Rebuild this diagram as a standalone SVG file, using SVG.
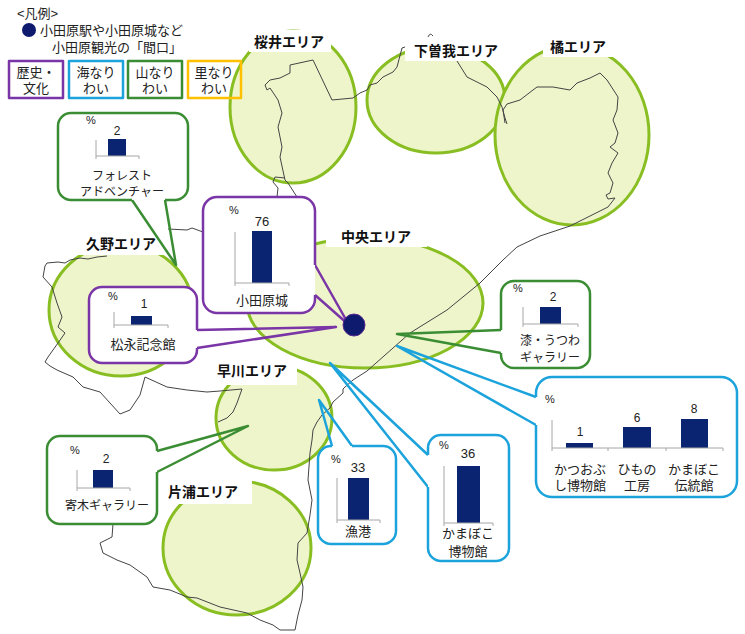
<svg xmlns="http://www.w3.org/2000/svg" width="745" height="634" viewBox="0 0 745 634">
<style>
.area{fill:#EFF5CB;stroke:#88BE22;stroke-width:3}
.map{fill:none;stroke:#444;stroke-width:1;stroke-linejoin:round}
.lbg{fill:#fff}
.lbl{font-family:'Liberation Sans','Noto Sans CJK JP',sans-serif;font-weight:bold;font-size:14px;fill:#111;text-anchor:middle}
.cbg{fill:#fff}
.co{fill:none;stroke-width:2.5;stroke-linejoin:round}
.g{stroke:#3B8D34}.p{stroke:#7A35A6}.b{stroke:#1CA3DC}.o{stroke:#FFC000}
.bar{fill:#0B2472}
.ax{fill:none;stroke:#A6A6A6;stroke-width:1}
.t{font-family:'Liberation Sans','Noto Sans CJK JP',sans-serif;font-size:13px;fill:#222;text-anchor:middle}
.s12{font-size:12px}
.pc{font-size:11px;text-anchor:start}
.lg{font-family:'Liberation Sans','Noto Sans CJK JP',sans-serif;font-size:13px;fill:#222}
</style>
<rect width="745" height="634" fill="#fff"/>
<g id="areas">
<ellipse id="area-sakurai" class="area" cx="293" cy="107" rx="63" ry="76"/>
<ellipse id="area-shimosoga" class="area" cx="436" cy="100" rx="69" ry="53"/>
<ellipse id="area-tachibana" class="area" cx="572" cy="135" rx="77" ry="90"/>
<ellipse id="area-chuo" class="area" cx="365" cy="303" rx="118" ry="65"/>
<ellipse id="area-kuno" class="area" cx="121" cy="310" rx="72" ry="66"/>
<ellipse id="area-hayakawa" class="area" cx="274" cy="418" rx="58" ry="52"/>
<ellipse id="area-kataura" class="area" cx="237" cy="548" rx="74" ry="67"/>
</g>
<g id="map">
<path class="map" d="M505,123 L503,110 L507,104 L520,100 L533,90 L537,87 L553,87 L570,90 L577,83 L590,78 L600,73 L607,80 L618,97 L617,110 L613,120 L618,133 L615,143 L610,147 L618,153 L612,163 L608,173 L613,183 L610,193 L606,195 L608,199 L615,198 L608,207 L570,226 L540,236 L517,247 L503,260 L480,283 L447,310 L410,333 L367,371 L353,380 L345,387 L343,389 L343,393 L333,402 L330,408 L322,415 L317,422 L313,430 L312,440 L310,453 L308,480 L312,500 L310,515 L307,533 L298,543 L297,560 L300,573 L303,587 L302,600 L298,615 L295,630 L280,630 L273,625 L260,620 L247,613 L220,607 L197,598 L187,597 L170,590 L153,587 L147,577 L130,565 L117,560 L103,553 L100,543 L112,537 L113,524"/>
<path class="map" d="M457,61 L467,77 L487,87 L497,97 L502,107 L505,118 L507,124"/>
<path class="map" d="M405,47 L402,48 L397,67 L393,72 L383,77 L377,83 L370,85 L367,90 L360,93 L353,98 L332,100 L313,60 L290,65 L290,73 L280,78 L270,80 L265,85 L267,90 L270,88 L278,100 L282,113 L278,127 L282,147 L280,157 L285,180 L288,183 L297,197"/>
<path class="map" d="M285,178 L275,177 L273,182 L278,188 L277,197"/>
<path class="map" d="M428,37 Q430,32 433,36"/>
<path class="map" d="M168,229 L187,230 L192,228 L203,232"/>
<path class="map" d="M107,256 L97,257 L88,259 L80,258 L70,260 L65,263 L58,262 L47,263 L45,266 L43,277 L52,287 L57,303 L62,317 L58,327 L65,333 L58,343 L48,357 L45,362 L50,366 L57,370 L73,377 L83,387 L100,392 L110,403 L120,414 L130,410 L140,395 L145,377 L167,387 L187,390 L207,392 L220,391 L242,389 L237,403 L233,412 L227,418 L218,422"/>
</g>
<g id="labels">
<rect class="lbg" x="249" y="30" width="82" height="22"/>
<text class="lbl" x="289" y="47">桜井エリア</text>
<rect class="lbg" x="405" y="38" width="100" height="23"/>
<text class="lbl" x="456" y="56">下曽我エリア</text>
<rect class="lbg" x="543" y="36" width="70" height="21"/>
<text class="lbl" x="578" y="52">橘エリア</text>
<rect class="lbg" x="326" y="224" width="101" height="23"/>
<text class="lbl" x="376" y="242">中央エリア</text>
<rect class="lbg" x="78" y="232" width="90" height="23"/>
<text class="lbl" x="121" y="249">久野エリア</text>
<rect class="lbg" x="208" y="358" width="89" height="27"/>
<text class="lbl" x="252" y="376">早川エリア</text>
<rect class="lbg" x="163" y="479" width="89" height="25"/>
<text class="lbl" x="203" y="497">片浦エリア</text>
</g>
<g id="legend">
<text class="lg" x="17" y="18" font-size="12">&lt;凡例&gt;</text>
<circle cx="29" cy="30" r="7" fill="#0D1A6E"/>
<text class="lg" x="40" y="35">小田原駅や小田原城など</text>
<text class="lg" x="52" y="52">小田原観光の「間口」</text>
<rect class="cbg co p" x="9" y="61" width="54" height="37"/>
<text class="t" x="36" y="77">歴史・</text><text class="t" x="36" y="93">文化</text>
<rect class="cbg co b" x="69" y="61" width="54" height="37"/>
<text class="t" x="96" y="77">海なり</text><text class="t" x="96" y="93">わい</text>
<rect class="cbg co g" x="128" y="61" width="54" height="37"/>
<text class="t" x="155" y="77">山なり</text><text class="t" x="155" y="93">わい</text>
<rect class="cbg co o" x="188" y="61" width="53" height="37"/>
<text class="t" x="214" y="77">里なり</text><text class="t" x="214" y="93">わい</text>
</g>
<g id="connectors">
<path class="co g" d="M165,200 L176,265 L132,200"/>
<path class="co p" d="M315,265 L349,325 L315,295"/>
<path class="co p" d="M197,330 L336,327 L197,348"/>
<path class="co g" d="M501,353 L397,334 L501,330"/>
<path class="co b" d="M536,425 L397,346 L536,397"/>
<path class="co b" d="M428,487 L330,363 L428,455"/>
<path class="co b" d="M332,446 L319,400 L352,446"/>
<path class="co g" d="M157,451 L248,426 L157,472"/>
</g>
<g id="callout-forest">
<rect class="cbg" x="58" y="113" width="130" height="87" rx="13"/>
<path class="co g" d="M165,200 H175 A13,13 0 0 0 188,187 V126 A13,13 0 0 0 175,113 H71 A13,13 0 0 0 58,126 V187 A13,13 0 0 0 71,200 H132"/>
<text class="t pc" x="86" y="124">%</text>
<text class="t s12" x="117" y="135">2</text>
<rect class="bar" x="108" y="139" width="18" height="17"/>
<path class="ax" d="M96,140 V159 M96,156 H139 V159"/>
<text class="t s12" x="122" y="180">フォレスト</text>
<text class="t s12" x="122" y="196">アドベンチャー</text>
</g>
<g id="callout-odawarajo">
<rect class="cbg" x="203" y="197" width="112" height="116" rx="14"/>
<path class="co p" d="M315,265 V211 A14,14 0 0 0 301,197 H217 A14,14 0 0 0 203,211 V299 A14,14 0 0 0 217,313 H301 A14,14 0 0 0 315,299 V295"/>
<text class="t pc" x="229" y="214">%</text>
<text class="t" x="262" y="226">76</text>
<rect class="bar" x="252" y="231" width="20" height="52"/>
<path class="ax" d="M235,232 V286 M235,283 H289 V286"/>
<text class="t" x="262" y="305">小田原城</text>
</g>
<g id="callout-matsunaga">
<rect class="cbg" x="89" y="287" width="108" height="76" rx="13"/>
<path class="co p" d="M197,330 V300 A13,13 0 0 0 184,287 H102 A13,13 0 0 0 89,300 V350 A13,13 0 0 0 102,363 H184 A13,13 0 0 0 197,350 V348"/>
<text class="t pc" x="108" y="300">%</text>
<text class="t s12" x="144" y="308">1</text>
<rect class="bar" x="131" y="316" width="21" height="9"/>
<path class="ax" d="M114,312 V328 M114,325 H168 V328"/>
<text class="t" x="143" y="349">松永記念館</text>
</g>
<g id="callout-urushi">
<rect class="cbg" x="501" y="281" width="89" height="87" rx="13"/>
<path class="co g" d="M501,330 V294 A13,13 0 0 1 514,281 H577 A13,13 0 0 1 590,294 V355 A13,13 0 0 1 577,368 H514 A13,13 0 0 1 501,355 V353"/>
<text class="t pc" x="513" y="292">%</text>
<text class="t s12" x="553" y="301">2</text>
<rect class="bar" x="540" y="307" width="21" height="17"/>
<path class="ax" d="M523,307 V327 M523,324 H578 V327"/>
<text class="t s12" x="550" y="345">漆・うつわ</text>
<text class="t s12" x="550" y="362">ギャラリー</text>
</g>
<g id="callout-three">
<rect class="cbg" x="536" y="377" width="201" height="120" rx="16"/>
<path class="co b" d="M536,397 V393 A16,16 0 0 1 552,377 H721 A16,16 0 0 1 737,393 V481 A16,16 0 0 1 721,497 H552 A16,16 0 0 1 536,481 V425"/>
<text class="t pc" x="545" y="403">%</text>
<rect class="bar" x="566" y="443" width="27" height="5"/>
<rect class="bar" x="623" y="427" width="28" height="21"/>
<rect class="bar" x="681" y="419" width="27" height="29"/>
<path class="ax" d="M552,420 V451 M552,448 H723 M608,448 V451 M666,448 V451 M723,448 V451"/>
<text class="t s12" x="580" y="436">1</text>
<text class="t s12" x="637" y="422">6</text>
<text class="t s12" x="694" y="413">8</text>
<text class="t" x="580" y="474">かつおぶ</text><text class="t" x="580" y="490">し博物館</text>
<text class="t" x="637" y="474">ひもの</text><text class="t" x="637" y="490">工房</text>
<text class="t" x="694" y="474">かまぼこ</text><text class="t" x="694" y="490">伝統館</text>
</g>
<g id="callout-kamaboko">
<rect class="cbg" x="428" y="435" width="81" height="126" rx="13"/>
<path class="co b" d="M428,455 V448 A13,13 0 0 1 441,435 H496 A13,13 0 0 1 509,448 V548 A13,13 0 0 1 496,561 H441 A13,13 0 0 1 428,548 V487"/>
<text class="t pc" x="439" y="449">%</text>
<text class="t" x="468" y="458">36</text>
<rect class="bar" x="457" y="466" width="23" height="57"/>
<path class="ax" d="M444,466 V526 M444,523 H493 V526"/>
<text class="t" x="468" y="538">かまぼこ</text>
<text class="t" x="468" y="556">博物館</text>
</g>
<g id="callout-gyoko">
<rect class="cbg" x="318" y="446" width="78" height="98" rx="13"/>
<path class="co b" d="M352,446 H383 A13,13 0 0 1 396,459 V531 A13,13 0 0 1 383,544 H331 A13,13 0 0 1 318,531 V459 A13,13 0 0 1 331,446 H332"/>
<text class="t pc" x="331" y="463">%</text>
<text class="t" x="358" y="472">33</text>
<rect class="bar" x="348" y="478" width="21" height="42"/>
<path class="ax" d="M337,478 V523 M337,520 H380 V523"/>
<text class="t" x="358" y="536">漁港</text>
</g>
<g id="callout-yosegi">
<rect class="cbg" x="47" y="436" width="110" height="88" rx="13"/>
<path class="co g" d="M157,451 V449 A13,13 0 0 0 144,436 H60 A13,13 0 0 0 47,449 V511 A13,13 0 0 0 60,524 H144 A13,13 0 0 0 157,511 V472"/>
<text class="t pc" x="70" y="454">%</text>
<text class="t s12" x="106" y="463">2</text>
<rect class="bar" x="93" y="470" width="20" height="18"/>
<path class="ax" d="M77,470 V491 M77,488 H130 V491"/>
<text class="t s12" x="107" y="510">寄木ギャラリー</text>
</g>
<g id="gateway">
<circle cx="354" cy="325" r="11" fill="#0D1A6E" stroke="#5B2C8F" stroke-width="1"/>
</g>
</svg>
